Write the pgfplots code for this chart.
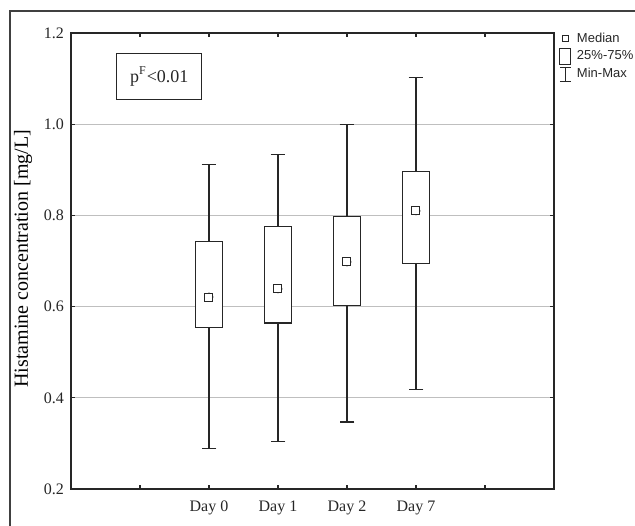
\documentclass[border=0pt]{standalone}
\usepackage{pgfplots}
\pgfplotsset{compat=1.18}
\usepackage{fontspec}
\setmainfont{Liberation Serif}
\newfontfamily\legendfont{Liberation Sans}
\begin{document}
\begin{tikzpicture}
\useasboundingbox (0,0) rectangle (317.5pt,262.5pt);
\draw[line width=0.6pt, black!75] (5pt,-2pt) -- (5pt,257pt) -- (320pt,257pt);
\begin{axis}[
  at={(35.5pt,18pt)}, anchor=south west,
  scale only axis, width=241.5pt, height=228pt,
  xmin=0, xmax=7, ymin=0.2, ymax=1.2,
  xtick={1,2,3,4,5,6}, xticklabels={,Day 0,Day 1,Day 2,Day 7,},
  ytick={0.2,0.4,0.6,0.8,1.0,1.2},
  /pgf/number format/assume math mode=true,
  yticklabel style={/pgf/number format/.cd, fixed, fixed zerofill, precision=1},
  xticklabel style={yshift=-2.5pt},
  tick label style={font=\fontsize{8}{9.6}\selectfont, black!85},
  tick align=inside, major tick length=2pt,
  tick style={black!85, line width=0.6pt},
  axis line style={black!85, line width=0.6pt},
  ymajorgrids, grid style={black!25, line width=0.6pt},
  ylabel={Histamine concentration [mg/L]},
  ylabel style={font=\fontsize{8.7}{10}\selectfont, black!85},
  every axis y label/.style={at={(axis description cs:-0.0994,0.505)}, rotate=90, anchor=center},
  legend style={at={(1,1)}, anchor=north west, xshift=2.5pt, yshift=1pt,
    draw=none, fill=none, inner sep=0pt, row sep=1pt,
    nodes={inner sep=0.6pt},
    /tikz/every odd column/.append style={column sep=2.2pt},
    font=\legendfont\fontsize{6.5}{7.8}\selectfont, text=black!85},
  legend cell align=left,
]
\addlegendimage{legend image code/.code={\path[draw=none] (0pt,-1.5pt) rectangle (5.5pt,1.5pt); \draw[black!85, line width=0.5pt] (1.25pt,-1.5pt) rectangle (4.25pt,1.5pt);}}
\addlegendentry{Median}
\addlegendimage{legend image code/.code={\draw[black!85, line width=0.5pt] (0pt,-3.9pt) rectangle (5.5pt,3.9pt);}}
\addlegendentry{25\%-75\%}
\addlegendimage{legend image code/.code={\draw[black!85, line width=0.5pt] (2.75pt,-3.6pt) -- (2.75pt,3.6pt) (0pt,3.6pt) -- (5.5pt,3.6pt) (0pt,-3.6pt) -- (5.5pt,-3.6pt);}}
\addlegendentry{Min-Max}

% whiskers (min-max) around the median
\addplot[forget plot, only marks, mark=none, black!85,
  error bars/.cd, y dir=both, y explicit,
  error bar style={black!85, line width=0.6pt},
  error mark options={rotate=90, black!85, line width=0.6pt, mark size=3.65pt}]
  coordinates {
    (2,0.621) += (0,0.290) -= (0,0.332)
    (3,0.639) += (0,0.294) -= (0,0.334)
    (4,0.698) += (0,0.302) -= (0,0.351)
    (5,0.810) += (0,0.293) -= (0,0.391)
  };

% boxes (25%-75%)
\addplot[forget plot, black!85, line width=0.6pt, fill=white] coordinates {(1.8,0.555) (2.2,0.555) (2.2,0.743) (1.8,0.743)} -- cycle;
\addplot[forget plot, black!85, line width=0.6pt, fill=white] coordinates {(2.8,0.564) (3.2,0.564) (3.2,0.775) (2.8,0.775)} -- cycle;
\addplot[forget plot, black!85, line width=0.6pt, fill=white] coordinates {(3.8,0.603) (4.2,0.603) (4.2,0.797) (3.8,0.797)} -- cycle;
\addplot[forget plot, black!85, line width=0.6pt, fill=white] coordinates {(4.8,0.694) (5.2,0.694) (5.2,0.896) (4.8,0.896)} -- cycle;

% medians
\addplot[forget plot, only marks, mark=square*, mark size=2pt,
  mark options={draw=black!85, fill=white, line width=0.5pt}]
  coordinates {(2,0.621) (3,0.639) (4,0.698) (5,0.810)};

\node[draw=black!85, line width=0.6pt, minimum width=42.5pt, minimum height=23pt, font=\fontsize{9}{10.8}\selectfont, text=black!85] at (axis cs:1.28,1.104) {p\textsuperscript{F}<0.01};
\end{axis}
\end{tikzpicture}
\end{document}
